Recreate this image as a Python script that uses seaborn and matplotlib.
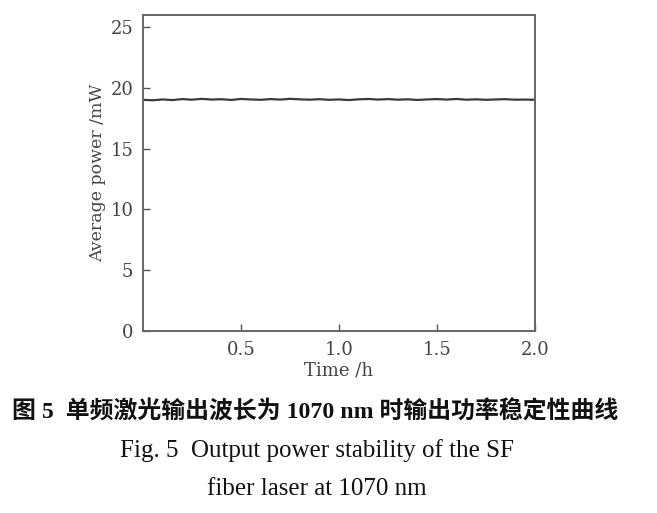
import numpy as np
import pandas as pd
import seaborn as sns
import matplotlib.pyplot as plt

# Output power of the SF fiber laser at 1070 nm
time_h = [0.00, 0.05, 0.10, 0.15, 0.20, 0.25, 0.30, 0.35, 0.40, 0.45,
          0.50, 0.55, 0.60, 0.65, 0.70, 0.75, 0.80, 0.85, 0.90, 0.95,
          1.00, 1.05, 1.10, 1.15, 1.20, 1.25, 1.30, 1.35, 1.40, 1.45,
          1.50, 1.55, 1.60, 1.65, 1.70, 1.75, 1.80, 1.85, 1.90, 1.95, 2.00]
power_mw = [19.02, 18.98, 19.05, 19.00, 19.08, 19.03, 19.10, 19.04, 19.07, 19.01,
            19.09, 19.05, 19.02, 19.08, 19.04, 19.10, 19.06, 19.03, 19.07, 19.02,
            19.05, 19.00, 19.06, 19.09, 19.04, 19.08, 19.03, 19.06, 19.01, 19.05,
            19.08, 19.04, 19.09, 19.03, 19.06, 19.02, 19.05, 19.07, 19.03, 19.04, 19.02]

df = pd.DataFrame({"Time /h": time_h, "Average power /mW": power_mw})

sns.set_style("white")
plt.rcParams['font.family'] = ['DejaVu Serif']

fig = plt.figure(figsize=(6.57, 5.13), dpi=100)
ax = fig.add_axes([0.2177, 0.3548, 0.5966, 0.6160])

sns.lineplot(data=df, x="Time /h", y="Average power /mW", ax=ax,
             color="#3a3a3a", linewidth=1.6)

ax.set_xlim(0, 2.0)
ax.set_ylim(0, 26)
ax.set_xticks([0.5, 1.0, 1.5, 2.0])
ax.set_xticklabels(["0.5", "1.0", "1.5", "2.0"])
ax.set_yticks([0, 5, 10, 15, 20, 25])
ax.tick_params(bottom=True, left=True, direction="in", length=5, width=1,
               colors="#555555", labelcolor="#444444", labelsize=13, pad=7)
for s in ax.spines.values():
    s.set_color("#666666")
    s.set_linewidth(1.4)
ax.set_xlabel("Time /h", fontsize=13, color="#444444", labelpad=2)
ax.set_ylabel("Average power /mW", fontsize=12.5, color="#444444", labelpad=3)

fig.text(0.48, 0.197, "图 5  单频激光输出波长为 1070 nm 时输出功率稳定性曲线",
         ha="center", va="center", fontsize=17.2, fontweight="bold",
         family=["Liberation Serif", "Noto Sans CJK SC"], color="#111111")
fig.text(0.482, 0.121, "Fig. 5  Output power stability of the SF",
         ha="center", va="center", fontsize=18, family="Liberation Serif",
         color="#111111")
fig.text(0.482, 0.047, "fiber laser at 1070 nm",
         ha="center", va="center", fontsize=18, family="Liberation Serif",
         color="#111111")

fig.savefig("out.png", dpi=100)
